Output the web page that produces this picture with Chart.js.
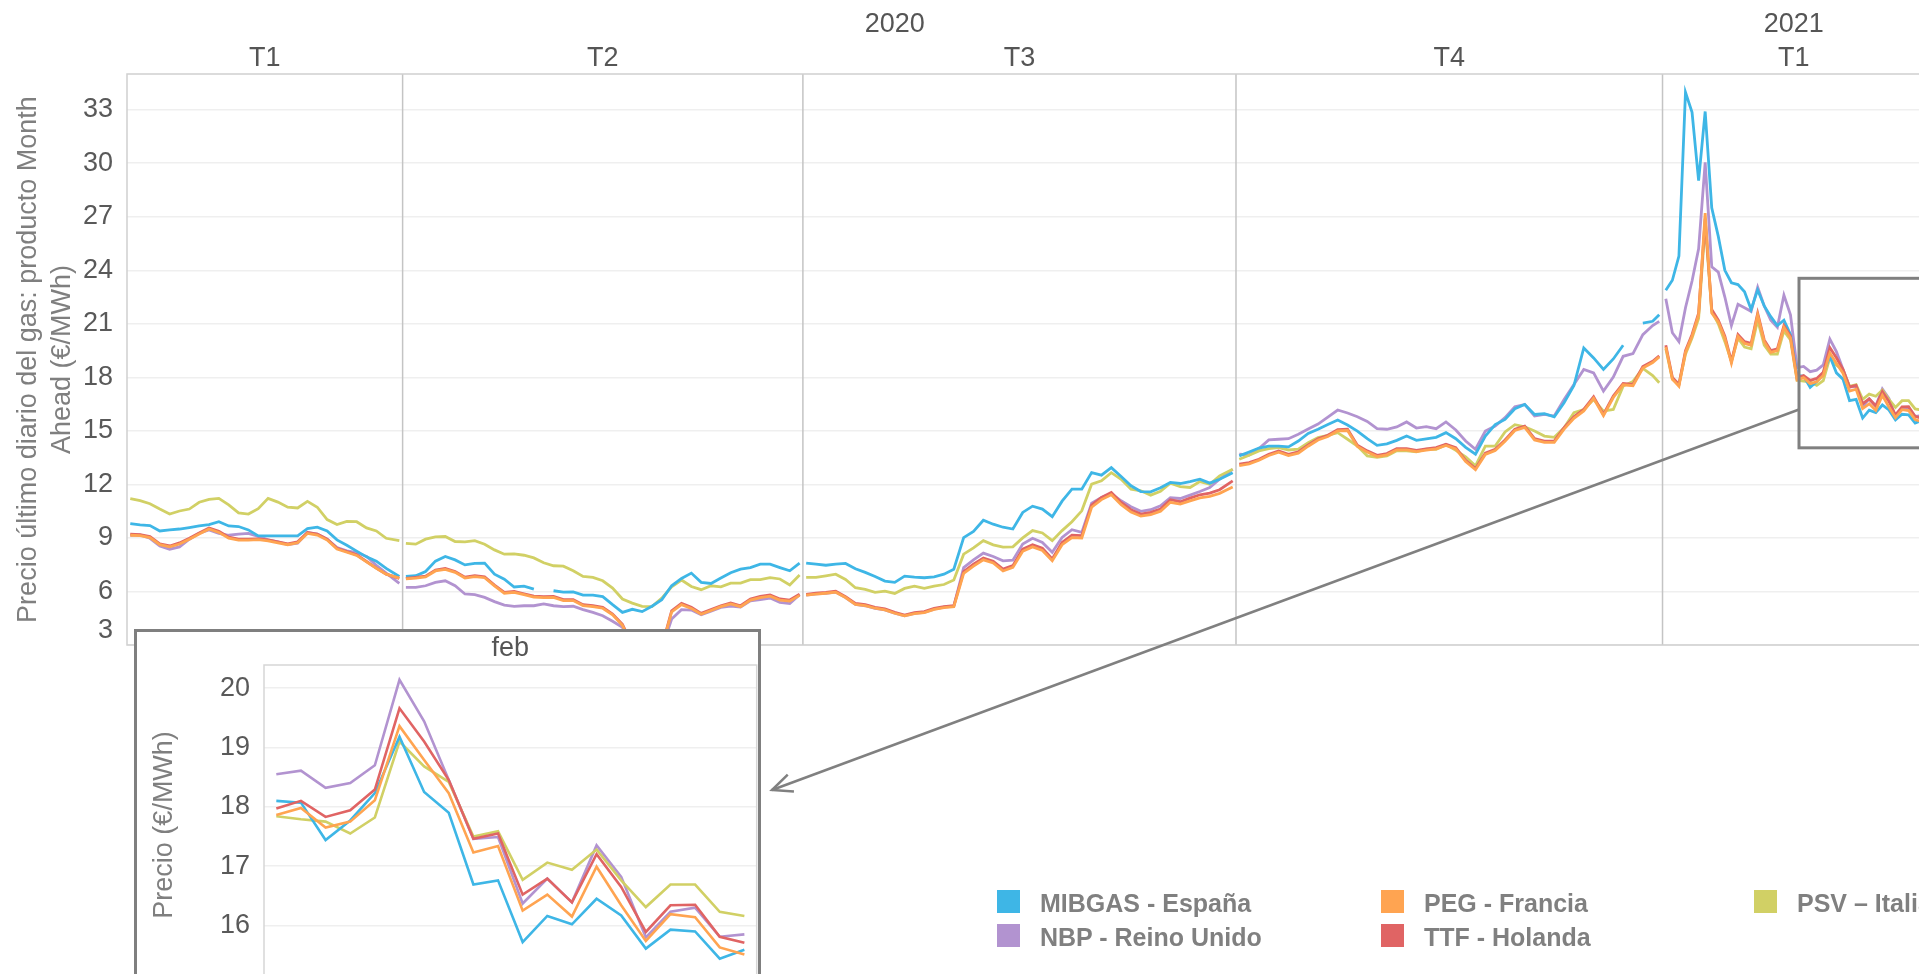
<!DOCTYPE html>
<html>
<head>
<meta charset="utf-8">
<script src="https://cdn.jsdelivr.net/npm/chart.js@4.4.1/dist/chart.umd.min.js"></script>
<style>
  html, body { margin: 0; padding: 0; background: #fff; width: 1919px; height: 974px; overflow: hidden; }
  #main { position: absolute; left: 0; top: 0; }
  #insetBox { position: absolute; left: 134px; top: 629px; width: 621px; height: 420px; border: 3px solid #7f7f7f; background: #fff; overflow: hidden; }
  #inset { position: absolute; left: 0; top: 0; }
  .sw { position: absolute; width: 23px; height: 23px; }
  .lt { position: absolute; font: bold 25px "Liberation Sans", Arial, sans-serif; color: #808080; line-height: 30px; white-space: nowrap; }
</style>
</head>
<body>
<canvas id="main" width="1930" height="974"></canvas>
<div id="insetBox"><canvas id="inset" width="621" height="370"></canvas></div>
<div id="legend"></div>
<script>
// --- data ---
// x of every sample, in trading days from the first day shown; the single-value rows (42, 103, 169, 234) are quarter breaks
const days = [
  0.5, 2, 3.5, 5, 6.5, 8, 9.5, 11, 12.5, 14, 15.5, 17, 18.5, 20, 21.5, 23, 24.5, 26, 27.5, 29, 30.5, 32, 33.5, 35, 36.5, 38, 39.5, 41.5,
  42,
  42.5, 44, 45.5, 47, 48.5, 50, 51.5, 53, 54.5, 56, 57.5, 59, 60.5, 62, 63.5, 65, 66.5, 68, 69.5, 71, 72.5, 74, 75.5, 77, 78.5, 80, 81.5, 83, 84.5, 86, 87.5, 89, 90.5, 92, 93.5, 95, 96.5, 98, 99.5, 101, 102.5,
  103,
  103.5, 105, 106.5, 108, 109.5, 111, 112.5, 114, 115.5, 117, 118.5, 120, 121.5, 123, 124.5, 126, 127.5, 129, 130.5, 132, 133.5, 135, 136.5, 138, 139.5, 141, 142.5, 144, 145.5, 147, 148.5, 150, 151.5, 153, 154.5, 156, 157.5, 159, 160.5, 162, 163.5, 165, 166.5, 168.5,
  169,
  169.5, 171, 172.5, 174, 175.5, 177, 178.5, 180, 181.5, 183, 184.5, 186, 187.5, 189, 190.5, 192, 193.5, 195, 196.5, 198, 199.5, 201, 202.5, 204, 205.5, 207, 208.5, 210, 211.5, 213, 214.5, 216, 217.5, 219, 220.5, 222, 223.5, 225, 226.5, 228, 229.5, 231, 232.5, 233.5,
  234,
  234.5, 235.5, 236.5, 237.5, 238.5, 239.5, 240.5, 241.5, 242.5, 243.5, 244.5, 245.5, 246.5, 247.5, 248.5, 249.5, 250.5, 251.5, 252.5, 253.5,
  254.5, 255.5, 256.5, 257.5, 258.5, 259.5, 260.5, 261.5, 262.5, 263.5, 264.5, 265.5, 266.5, 267.5, 268.5, 269.5, 270.5, 271.5, 272.5, 273.5
];

const mibgas = [
  9.80, 9.73, 9.69, 9.39, 9.45, 9.50, 9.58, 9.67, 9.75, 9.91, 9.67, 9.64, 9.45, 9.11, 9.11, 9.11, 9.11, 9.11, 9.52, 9.60, 9.39, 8.89, 8.59, 8.26, 7.94, 7.70, 7.29, 6.84,
  null,
  6.84, 6.88, 7.12, 7.70, 7.96, 7.77, 7.49, 7.57, 7.59, 6.97, 6.69, 6.25, 6.30, 6.13, null, 6.04, 5.96, 5.98, 5.80, 5.80, 5.71, 5.26, 4.83, 5.00, 4.87, 5.17, 5.54, 6.32, 6.73, 7.03, 6.51, 6.45, 6.75, 7.05, 7.25, 7.34, 7.53, 7.53, 7.34, 7.16, 7.59,
  null,
  7.59, 7.53, 7.47, 7.53, 7.57, 7.27, 7.07, 6.84, 6.58, 6.51, 6.86, 6.80, 6.77, 6.82, 6.97, 7.25, 9.02, 9.37, 9.99, 9.77, 9.60, 9.50, 10.43, 10.78, 10.62, 10.19, 11.06, 11.73, 11.73, 12.66, 12.52, 12.94, 12.44, 11.92, 11.60, 11.58, 11.81, 12.11, 12.05, 12.16, 12.29, 12.07, 12.29, 12.66,
  null,
  13.60, 13.82, 14.04, 14.15, 14.15, 14.10, 14.43, 14.86, 15.09, 15.36, 15.61, 15.33, 14.99, 14.56, 14.19, 14.27, 14.47, 14.71, 14.47, 14.55, 14.64, 14.90, 14.56, 14.08, 13.69, 14.71, 15.35, 15.64, 16.24, 16.48, 15.92, 15.96, 15.79, 16.58, 17.54, 19.65, 19.09, 18.44, 19.03, 19.80, null, 21.04, 21.14, 21.51,
  null,
  22.88, 23.44, 24.80, 33.97, 32.85, 29.03, 32.90, 27.50, 25.90, 24.00, 23.30, 23.20, 22.80, 21.80, 22.90, 22.00, 21.40, 20.90, 21.20, 20.40,
  18.10, 18.07, 17.44, 17.77, 18.23, 19.18, 18.25, 17.90, 16.69, 16.76, 15.72, 16.16, 16.02, 16.45, 16.17, 15.61, 15.93, 15.90, 15.44, 15.59
];

const nbp = [
  9.15, 9.17, 8.98, 8.55, 8.37, 8.50, 8.93, 9.26, 9.45, 9.26, 9.15, 9.21, 9.26, 9.09, 8.89, 8.78, 8.63, 8.70, 9.30, 9.21, 8.93, 8.46, 8.28, 8.18, 7.96, 7.47, 7.03, 6.45,
  null,
  6.23, 6.23, 6.32, 6.51, 6.60, 6.32, 5.86, 5.82, 5.67, 5.43, 5.24, 5.17, 5.20, 5.20, 5.30, 5.20, 5.15, 5.17, 4.98, 4.83, 4.64, 4.33, 3.99, 2.90, 2.30, 2.20, 2.80, 4.46, 4.98, 4.96, 4.70, 4.90, 5.11, 5.18, 5.13, 5.48, 5.54, 5.63, 5.39, 5.32, 5.82,
  null,
  5.80, 5.86, 5.90, 5.97, 5.66, 5.28, 5.20, 5.05, 4.97, 4.78, 4.64, 4.77, 4.83, 5.01, 5.12, 5.17, 7.34, 7.77, 8.15, 7.96, 7.72, 7.75, 8.66, 8.98, 8.75, 8.20, 9.03, 9.46, 9.31, 10.95, 11.27, 11.49, 11.08, 10.75, 10.49, 10.58, 10.80, 11.25, 11.21, 11.40, 11.60, 11.83, 12.29, 12.85,
  null,
  13.69, 13.65, 14.01, 14.49, 14.53, 14.56, 14.81, 15.10, 15.38, 15.77, 16.17, 16.00, 15.79, 15.53, 15.12, 15.09, 15.22, 15.50, 15.16, 15.24, 15.12, 15.50, 15.05, 14.43, 13.97, 14.99, 15.27, 15.74, 16.35, 16.48, 15.83, 15.92, 15.83, 16.76, 17.60, 18.44, 18.25, 17.23, 18.01, 19.18, 19.33, 20.39, 20.90, 21.14,
  null,
  22.40, 20.50, 20.00, 21.90, 23.40, 25.20, 30.05, 24.20, 23.90, 22.50, 20.90, 22.10, 21.90, 21.70, 23.05, 22.00, 21.20, 20.80, 22.60, 21.50,
  18.55, 18.61, 18.32, 18.40, 18.70, 20.14, 19.44, 18.45, 17.46, 17.49, 16.37, 16.79, 16.39, 17.35, 16.82, 15.80, 16.23, 16.30, 15.81, 15.85
];

const peg = [
  9.15, 9.13, 9.02, 8.62, 8.50, 8.66, 8.93, 9.22, 9.50, 9.31, 8.99, 8.88, 8.88, 8.90, 8.84, 8.73, 8.62, 8.73, 9.25, 9.16, 8.88, 8.38, 8.20, 8.02, 7.66, 7.30, 6.97, 6.75,
  null,
  6.70, 6.75, 6.82, 7.15, 7.24, 7.07, 6.75, 6.83, 6.77, 6.31, 5.90, 5.95, 5.82, 5.69, 5.66, 5.67, 5.49, 5.49, 5.21, 5.15, 5.06, 4.69, 4.10, 2.95, 2.45, 2.35, 2.85, 4.85, 5.26, 5.05, 4.72, 4.93, 5.15, 5.30, 5.15, 5.52, 5.66, 5.74, 5.52, 5.46, 5.78,
  null,
  5.79, 5.85, 5.90, 5.96, 5.66, 5.28, 5.21, 5.06, 4.97, 4.78, 4.63, 4.76, 4.82, 5.00, 5.10, 5.15, 7.02, 7.42, 7.77, 7.60, 7.15, 7.35, 8.25, 8.50, 8.30, 7.72, 8.62, 9.02, 9.00, 10.72, 11.15, 11.42, 10.86, 10.45, 10.22, 10.30, 10.50, 11.00, 10.90, 11.08, 11.25, 11.33, 11.50, 11.85,
  null,
  13.05, 13.15, 13.35, 13.62, 13.80, 13.62, 13.75, 14.14, 14.49, 14.68, 15.00, 15.02, 14.12, 13.81, 13.56, 13.66, 13.94, 13.94, 13.84, 13.92, 13.99, 14.18, 13.99, 13.28, 12.82, 13.68, 13.90, 14.42, 15.02, 15.20, 14.49, 14.36, 14.36, 15.10, 15.70, 16.12, 16.83, 15.85, 16.87, 17.58, 17.53, 18.52, 18.83, 19.15,
  null,
  19.70, 17.90, 17.50, 19.40, 20.30, 21.50, 27.20, 21.60, 21.10, 20.20, 18.80, 20.30, 19.90, 19.80, 21.50, 20.00, 19.40, 19.50, 20.80, 20.20,
  17.86, 17.98, 17.65, 17.75, 18.11, 19.36, 18.79, 18.23, 17.23, 17.34, 16.25, 16.52, 16.15, 16.99, 16.34, 15.74, 16.19, 16.14, 15.63, 15.51
];

const ttf = [
  9.21, 9.19, 9.08, 8.67, 8.55, 8.72, 8.98, 9.28, 9.56, 9.37, 9.04, 8.93, 8.93, 8.95, 8.89, 8.78, 8.67, 8.78, 9.30, 9.21, 8.93, 8.42, 8.24, 8.05, 7.68, 7.31, 6.97, 6.73,
  null,
  6.73, 6.79, 6.86, 7.20, 7.29, 7.12, 6.80, 6.88, 6.82, 6.36, 5.95, 6.00, 5.87, 5.74, 5.71, 5.72, 5.54, 5.54, 5.26, 5.20, 5.11, 4.74, 4.16, 3.00, 2.50, 2.40, 2.90, 4.92, 5.33, 5.11, 4.77, 4.98, 5.20, 5.35, 5.20, 5.58, 5.72, 5.80, 5.58, 5.52, 5.84,
  null,
  5.84, 5.91, 5.95, 6.02, 5.71, 5.33, 5.26, 5.11, 5.02, 4.83, 4.68, 4.81, 4.87, 5.05, 5.15, 5.20, 7.12, 7.53, 7.87, 7.70, 7.25, 7.45, 8.38, 8.62, 8.42, 7.82, 8.75, 9.16, 9.13, 10.84, 11.27, 11.55, 10.99, 10.58, 10.34, 10.43, 10.62, 11.14, 11.03, 11.23, 11.42, 11.51, 11.70, 12.20,
  null,
  13.13, 13.22, 13.41, 13.69, 13.88, 13.69, 13.82, 14.21, 14.56, 14.75, 15.07, 15.09, 14.19, 13.88, 13.63, 13.73, 14.01, 14.01, 13.91, 13.99, 14.06, 14.25, 14.06, 13.35, 12.89, 13.75, 13.97, 14.49, 15.09, 15.27, 14.56, 14.43, 14.43, 15.18, 15.79, 16.20, 16.91, 15.92, 16.95, 17.66, 17.60, 18.60, 18.90, 19.20,
  null,
  19.80, 18.00, 17.60, 19.50, 20.40, 21.60, 26.90, 21.80, 21.20, 20.30, 18.90, 20.40, 20.00, 19.90, 21.60, 20.10, 19.50, 19.60, 20.90, 20.30,
  17.97, 18.10, 17.83, 17.94, 18.29, 19.66, 19.10, 18.45, 17.46, 17.55, 16.52, 16.79, 16.39, 17.20, 16.65, 15.89, 16.34, 16.35, 15.81, 15.71
];

const psv = [
  11.20, 11.09, 10.92, 10.62, 10.34, 10.51, 10.62, 11.00, 11.16, 11.22, 10.85, 10.40, 10.34, 10.64, 11.22, 11.01, 10.72, 10.68, 11.05, 10.72, 10.03, 9.75, 9.93, 9.91, 9.56, 9.39, 8.98, 8.85,
  null,
  8.70, 8.65, 8.93, 9.06, 9.08, 8.80, 8.78, 8.85, 8.65, 8.33, 8.09, 8.11, 8.03, 7.88, 7.61, 7.44, 7.42, 7.16, 6.84, 6.79, 6.60, 6.19, 5.58, 5.35, 5.17, 5.15, 5.63, 6.26, 6.64, 6.28, 6.10, 6.32, 6.26, 6.47, 6.47, 6.66, 6.66, 6.77, 6.70, 6.36, 6.92,
  null,
  6.79, 6.79, 6.88, 6.97, 6.67, 6.21, 6.12, 5.95, 6.02, 5.89, 6.17, 6.30, 6.17, 6.30, 6.39, 6.64, 8.09, 8.44, 8.85, 8.61, 8.48, 8.50, 9.00, 9.41, 9.28, 8.85, 9.41, 9.91, 10.52, 12.01, 12.20, 12.66, 12.29, 11.73, 11.64, 11.40, 11.62, 12.07, 11.88, 11.83, 12.16, 12.01, 12.48, 12.85,
  null,
  13.41, 13.63, 13.88, 14.01, 14.06, 13.93, 13.97, 14.34, 14.62, 14.75, 14.90, 14.53, 14.15, 13.60, 13.52, 13.60, 13.89, 13.88, 13.82, 13.97, 13.97, 14.23, 13.91, 13.54, 13.04, 14.15, 14.15, 14.94, 15.35, 15.23, 14.99, 14.71, 14.64, 15.18, 16.02, 16.20, 16.76, 16.11, 16.20, 17.51, 17.77, 18.50, 18.10, 17.70,
  null,
  19.60, 17.90, 17.60, 19.30, 20.20, 21.30, 26.60, 21.70, 21.00, 20.00, 18.90, 20.20, 19.70, 19.60, 21.20, 19.80, 19.30, 19.30, 20.60, 20.10,
  17.84, 17.79, 17.75, 17.55, 17.82, 19.10, 18.68, 18.42, 17.50, 17.59, 16.77, 17.06, 16.94, 17.28, 16.76, 16.31, 16.69, 16.69, 16.23, 16.16
];

const seriesNames = ['MIBGAS - España', 'NBP - Reino Unido', 'PEG - Francia', 'TTF - Holanda', 'PSV \u2013 Italia'];
const seriesColors = ['#3eb6e6', '#b293d0', '#ffa451', '#e06464', '#d1d065'];
const drawOrder = [2, 4, 0, 1, 3]; // lower = drawn on top

const quarterStarts = [0, 42, 103, 169, 234, 274];
const quarterLabels = ['T1', 'T2', 'T3', 'T4', 'T1'];
const yearLabels = ['2020', '2021'];
const yearStarts = [0, 234, 274];
const mainYTicks = [3, 6, 9, 12, 15, 18, 21, 24, 27, 30, 33];
const mainYTitle = ['Precio último diario del gas: producto Month', 'Ahead (€/MWh)'];

const febLabels = ['1', '2', '3', '4', '5', '8', '9', '10', '11', '12', '15', '16', '17', '18', '19', '22', '23', '24', '25', '26'];
const insetYTicks = [16, 17, 18, 19, 20];
const zoomBox = { x0: 254.8, x1: 290, yMin: 14.05, yMax: 23.55, arrowAt: 16.2 };

// --- helpers ---
const FONT = '"Liberation Sans", Arial, sans-serif';
const allSeries = [mibgas, nbp, peg, ttf, psv];

function rotatedText(ctx, text, x, y) {
  ctx.save();
  ctx.translate(x, y);
  ctx.rotate(-Math.PI / 2);
  ctx.fillText(text, 0, 0);
  ctx.restore();
}

// --- main chart ---
const mainPlugin = {
  id: 'mainDecor',
  beforeDatasetsDraw(chart) {
    const { ctx, chartArea: a, scales: { x } } = chart;
    ctx.save();
    ctx.strokeStyle = '#c4c4c4';
    ctx.lineWidth = 1.5;
    quarterStarts.slice(1, -1).forEach(d => {
      const px = x.getPixelForValue(d);
      ctx.beginPath(); ctx.moveTo(px, a.top); ctx.lineTo(px, a.bottom); ctx.stroke();
    });
    ctx.strokeStyle = '#d0d0d0';
    ctx.strokeRect(a.left, a.top, a.right - a.left, a.bottom - a.top);
    ctx.restore();
  },
  afterDraw(chart) {
    const { ctx, chartArea: a, scales: { x, y } } = chart;
    ctx.save();
    ctx.font = '27px ' + FONT;
    // lowest tick label sits inside the plot, like the source
    ctx.fillStyle = '#595959';
    ctx.textAlign = 'right';
    ctx.textBaseline = 'bottom';
    ctx.fillText(String(mainYTicks[0]), a.left - 14, a.bottom - 1);
    // header
    ctx.fillStyle = '#555';
    ctx.textAlign = 'center';
    ctx.textBaseline = 'middle';
    quarterLabels.forEach((t, i) => {
      const cx = (x.getPixelForValue(quarterStarts[i]) + x.getPixelForValue(quarterStarts[i + 1])) / 2;
      ctx.fillText(t, cx, a.top - 15);
    });
    yearLabels.forEach((t, i) => {
      const cx = (x.getPixelForValue(yearStarts[i]) + x.getPixelForValue(yearStarts[i + 1])) / 2;
      ctx.fillText(t, cx, a.top - 49);
    });
    // y title
    ctx.fillStyle = '#7f7f7f';
    const cy = (a.top + a.bottom) / 2;
    rotatedText(ctx, mainYTitle[0], 29, cy);
    rotatedText(ctx, mainYTitle[1], 63, cy);
    // zoom box + arrow
    const bx = x.getPixelForValue(zoomBox.x0);
    const by0 = y.getPixelForValue(zoomBox.yMax);
    const by1 = y.getPixelForValue(zoomBox.yMin);
    ctx.strokeStyle = '#808080';
    ctx.lineWidth = 3;
    ctx.strokeRect(bx, by0, x.getPixelForValue(zoomBox.x1) - bx, by1 - by0);
    const sx = bx, sy = y.getPixelForValue(zoomBox.arrowAt);
    const tx = 772, ty = 790;
    ctx.lineWidth = 2.5;
    ctx.beginPath(); ctx.moveTo(sx, sy); ctx.lineTo(tx, ty); ctx.stroke();
    const ang = Math.atan2(sy - ty, sx - tx);
    ctx.beginPath();
    ctx.moveTo(tx + 22 * Math.cos(ang + 0.42), ty + 22 * Math.sin(ang + 0.42));
    ctx.lineTo(tx, ty);
    ctx.lineTo(tx + 22 * Math.cos(ang - 0.42), ty + 22 * Math.sin(ang - 0.42));
    ctx.stroke();
    ctx.restore();
  }
};

new Chart(document.getElementById('main'), {
  type: 'line',
  data: {
    datasets: allSeries.map((s, i) => ({
      label: seriesNames[i],
      data: days.map((d, j) => ({ x: d, y: s[j] })),
      borderColor: seriesColors[i],
      borderWidth: 2.8,
      pointRadius: 0,
      tension: 0,
      spanGaps: false,
      order: drawOrder[i]
    }))
  },
  options: {
    responsive: false,
    maintainAspectRatio: false,
    animation: false,
    devicePixelRatio: 1,
    layout: { padding: { left: 0, top: 74, right: 5, bottom: 329 } },
    plugins: { legend: { display: false }, tooltip: { enabled: false } },
    scales: {
      x: { type: 'linear', min: quarterStarts[0], max: quarterStarts[quarterStarts.length - 1], display: false },
      y: {
        min: 3, max: 35,
        afterBuildTicks: ax => { ax.ticks = mainYTicks.map(v => ({ value: v })); },
        afterFit: ax => { ax.width = 127; },
        grid: { color: '#efefef', lineWidth: 1.5, drawTicks: false },
        border: { display: false },
        ticks: {
          font: { family: FONT, size: 27 }, color: '#595959', padding: 14, autoSkip: false,
          callback: v => (v === mainYTicks[0] ? '' : v)
        }
      }
    }
  },
  plugins: [mainPlugin]
});

// --- inset (february) ---
const insetPlugin = {
  id: 'insetDecor',
  beforeDatasetsDraw(chart) {
    const { ctx, chartArea: a } = chart;
    ctx.save();
    ctx.strokeStyle = '#d6d6d6';
    ctx.lineWidth = 1.5;
    ctx.strokeRect(a.left, a.top, a.right - a.left, a.bottom - a.top);
    ctx.restore();
  },
  afterDraw(chart) {
    const { ctx, chartArea: a } = chart;
    ctx.save();
    ctx.font = '27px ' + FONT;
    ctx.textAlign = 'center';
    ctx.textBaseline = 'middle';
    ctx.fillStyle = '#555';
    ctx.fillText('feb', (a.left + a.right) / 2, a.top - 16);
    ctx.fillStyle = '#7f7f7f';
    rotatedText(ctx, 'Precio (€/MWh)', 28, (a.top + a.bottom) / 2);
    ctx.restore();
  }
};

const insetChart = new Chart(document.getElementById('inset'), {
  type: 'line',
  data: {
    labels: febLabels,
    datasets: allSeries.map((s, i) => ({
      label: seriesNames[i],
      data: s.slice(-febLabels.length),
      borderColor: seriesColors[i],
      borderWidth: 2.6,
      pointRadius: 0,
      tension: 0,
      order: drawOrder[i]
    }))
  },
  options: {
    responsive: false,
    maintainAspectRatio: false,
    animation: false,
    devicePixelRatio: 1,
    layout: { padding: { left: 0, top: 33, right: 1, bottom: 0 } },
    plugins: { legend: { display: false }, tooltip: { enabled: false } },
    scales: {
      x: { type: 'category', offset: true, display: false },
      y: {
        min: 15, max: 20.39,
        afterBuildTicks: ax => { ax.ticks = insetYTicks.map(v => ({ value: v })); },
        afterFit: ax => { ax.width = 127; },
        grid: { color: '#efefef', lineWidth: 1.5, drawTicks: false },
        border: { display: false },
        ticks: { font: { family: FONT, size: 27 }, color: '#595959', padding: 14, autoSkip: false }
      }
    }
  },
  plugins: [insetPlugin]
});
// the inset's plot runs past the bottom of the page; keep its floor where the source has it
const insetFloor = 352.5;
const ia = insetChart.chartArea;
if (Math.abs(ia.bottom - insetFloor) > 0.5) {
  insetChart.resize(621, Math.round(insetChart.height + insetFloor - ia.bottom));
}

// --- legend ---
const legendSlots = [[997, 890], [997, 924], [1381, 890], [1381, 924], [1754, 890]];
const legend = document.getElementById('legend');
seriesNames.forEach((name, i) => {
  const [lx, ly] = legendSlots[i];
  const sw = document.createElement('div');
  sw.className = 'sw';
  sw.style.left = lx + 'px';
  sw.style.top = ly + 'px';
  sw.style.background = seriesColors[i];
  legend.appendChild(sw);
  const t = document.createElement('div');
  t.className = 'lt';
  t.style.left = (lx + 43) + 'px';
  t.style.top = (ly - 2) + 'px';
  t.textContent = name;
  legend.appendChild(t);
});
</script>
</body>
</html>
